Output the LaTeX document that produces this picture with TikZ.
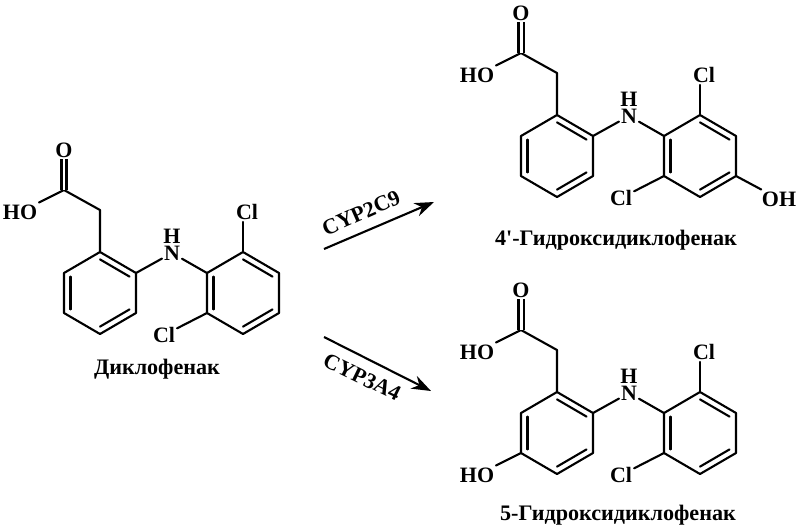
\documentclass[tikz,border=0pt]{standalone}
\usepackage{fontspec}
\setmainfont{Liberation Serif}[Ligatures=TeXOff]
\usetikzlibrary{calc,arrows.meta}
\tikzset{
  atom/.style={font=\fontsize{12.5}{14}\selectfont\bfseries,inner sep=1pt},
  title/.style={font=\fontsize{12.6}{14}\selectfont\bfseries,inner sep=0pt},
  bond/.style={line width=1.2pt,line cap=round,line join=round},
  reaction/.style={line width=1.2pt,-{Stealth[length=11pt,width=8pt]}}
}
% inner line of a ring double bond
\newcommand{\inbond}[3]{\draw [bond] ($(#3)!0.82!(#1)$) -- ($(#3)!0.82!(#2)$);}
\newcommand{\drugbody}{
  \coordinate (a1) at (100,252);
  \coordinate (a2) at (136,273);
  \coordinate (a3) at (136,313);
  \coordinate (a4) at (100,334);
  \coordinate (a5) at (64,313);
  \coordinate (a6) at (64,273);
  \coordinate (ac) at (100,293);
  \coordinate (b1) at (207,273);
  \coordinate (b2) at (207,313);
  \coordinate (b3) at (243,334);
  \coordinate (b4) at (279,313);
  \coordinate (b5) at (279,273);
  \coordinate (b6) at (243,252);
  \coordinate (bc) at (243,293);
  \coordinate (ch2) at (100,210);
  \coordinate (cooh) at (64,190);
  \node [atom] (oxo) at (64,150) {O};
  \node [atom] (hyd) at (20,212) {HO};
  \node [atom] (nh) at (172,253) {N};
  \node [atom] (hn) at (172,236) {H};
  \node [atom] (clt) at (247,212) {Cl};
  \node [atom] (clb) at (164,335) {Cl};
  \draw [bond] (a1) -- (a2) -- (a3) -- (a4) -- (a5) -- (a6) -- cycle;
  \draw [bond] (b1) -- (b2) -- (b3) -- (b4) -- (b5) -- (b6) -- cycle;
  \inbond{a1}{a2}{ac}
  \inbond{a3}{a4}{ac}
  \inbond{a5}{a6}{ac}
  \inbond{b1}{b2}{bc}
  \inbond{b3}{b4}{bc}
  \inbond{b5}{b6}{bc}
  \draw [bond] (a1) -- (ch2) -- (cooh) -- (hyd);
  \draw [bond,double,double distance=1.7pt,line cap=butt] (cooh) -- (oxo);
  \draw [bond] (a2) -- (nh) -- (b1);
  \draw [bond] (b6) -- (clt.south -| b6);
  \draw [bond] (b2) -- (clb);
}
\begin{document}
\begin{tikzpicture}[x=0.02cm,y=-0.02cm]
\useasboundingbox (0,0) rectangle (800,531);
% diclofenac
\begin{scope}[name prefix=m-]
\drugbody
\end{scope}
\node [title] (namem) at (157,369) {Диклофенак};
% 4'-hydroxy
\begin{scope}[shift={(457,-137)},name prefix=p-]
\drugbody
\node [atom] (ohp) at (322,336) {OH};
\draw [bond] (b4) -- (ohp);
\end{scope}
\node [title] (namep) at (616,240) {4'-Гидроксидиклофенак};
% 5-hydroxy
\begin{scope}[shift={(457,140)},name prefix=q-]
\drugbody
\node [atom] (ohq) at (20,335) {HO};
\draw [bond] (a5) -- (ohq);
\end{scope}
\node [title] (nameq) at (618,515) {5-Гидроксидиклофенак};
% enzymes
\coordinate (r1s) at (324,249);
\coordinate (r1e) at (434,202);
\coordinate (r2s) at (324,337);
\coordinate (r2e) at (431,391);
\draw [reaction] (r1s) -- (r1e);
\draw [reaction] (r2s) -- (r2e);
\node [atom,rotate=24] (cyp1) at (361,213) {CYP2C9};
\node [atom,rotate=-26] (cyp2) at (362,377) {CYP3A4};
\end{tikzpicture}
\end{document}
